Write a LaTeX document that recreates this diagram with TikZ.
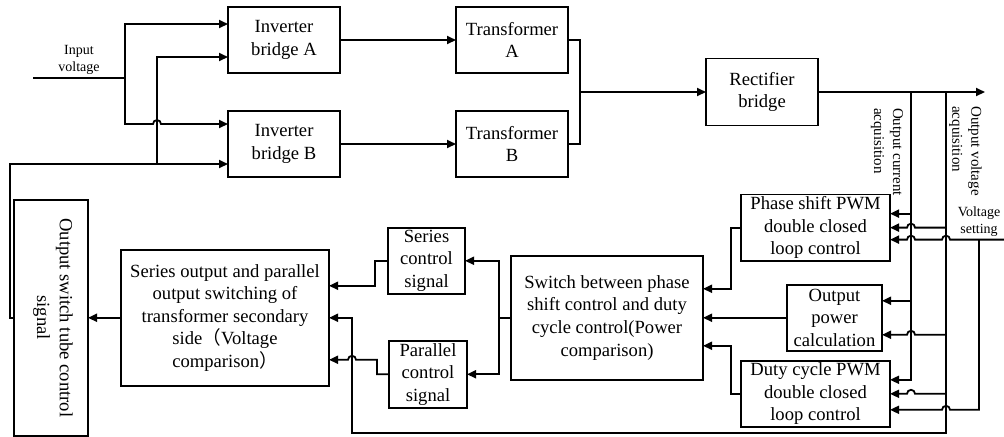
\documentclass[tikz,border=0pt]{standalone}
\usepackage{fontspec}
\setmainfont{Liberation Serif}
\newfontfamily\cjk{Noto Sans CJK SC}
\usepackage{graphicx}
\usepackage{tikz}
\usetikzlibrary{arrows.meta,positioning,calc}

\begin{document}
\begin{tikzpicture}[
   >={Triangle[length=4.5pt,width=4pt]},
   font=\fontsize{9.3pt}{11.3pt}\selectfont,
   box/.style={draw,line width=0.9pt,align=center,inner sep=1pt,outer sep=0pt,
               minimum width=56pt,minimum height=33pt},
   lbl/.style={font=\fontsize{7pt}{8.5pt}\selectfont,align=center,inner sep=0pt},
   acq/.style={lbl,rotate=-90,align=left,font=\fontsize{7.5pt}{9.5pt}\selectfont},
   sig/.style={->,line width=0.9pt},
   wire/.style={line width=0.9pt}
  ]
  \useasboundingbox (0,0) rectangle (502pt,-218pt);

  % power stage
  \node[box] (invA) at (142pt,-20pt) {Inverter\\bridge A};
  \node[box,below=19pt of invA] (invB) {Inverter\\bridge B};
  \node[box,right=58pt of invA] (trA) {Transformer\\A};
  \node[box,right=58pt of invB] (trB) {Transformer\\B};
  \coordinate (mid) at ($(trA.east)!0.5!(trB.east)$);
  \node[box,right=69pt of mid,minimum height=33.5pt] (rect) {Rectifier\\bridge};

  % control blocks
  \node[box,below=34.5pt of rect,xshift=26.75pt,minimum width=74.5pt] (phase)
       {Phase shift PWM\\double closed\\loop control};
  \node[box,below=12pt of phase,xshift=9.5pt,minimum width=47.5pt] (power)
       {Output\\power\\calculation};
  \node[box,below=50pt of phase,minimum width=74.5pt] (duty)
       {Duty cycle PWM\\double closed\\loop control};
  \node[box,left=42pt of power,minimum width=96pt,minimum height=62pt] (sw)
       {Switch between phase\\shift control and duty\\cycle control(Power\\comparison)};
  \node[box,left=23pt of sw,yshift=28.5pt,minimum width=38.5pt] (ser) {Series\\control\\signal};
  \node[box,left=22pt of sw,yshift=-28.25pt,minimum width=39pt,minimum height=33.5pt] (par)
       {Parallel\\control\\signal};
  \node[box,left=91pt of sw,minimum width=104pt,minimum height=68pt] (sp)
       {Series output and parallel\\output switching of\\transformer secondary\\side{\cjk （}Voltage\\comparison{\cjk ）}};
  \node[box,left=16.5pt of sp,minimum width=37pt,minimum height=118pt] (osw)
       {\hspace{2pt}\rotatebox{-90}{\begin{tabular}{@{}c@{}}Output switch tube control\\signal\end{tabular}}};

  % input side
  \coordinate (vj) at ([xshift=-51.5pt,yshift=-19pt]invA.west);
  \coordinate[left=46pt of vj] (vin);
  \node[lbl,above=1.5pt] (inlbl) at ($(vin)!0.5!(vj)$) {Input\\voltage};
  \draw[wire] (vin) -- (vj);
  \draw[sig] (vj) |- ([yshift=8pt]invA.west);
  \draw[sig] (vj) |- ([xshift=-37.5pt,yshift=10pt]invB.west)
     arc[start angle=180,end angle=0,radius=2pt] -- ([yshift=10pt]invB.west);
  \draw[sig] (osw.west) -- ++(-2pt,0) |- ([yshift=-10pt]invB.west);
  \coordinate (fbj) at ([xshift=-35.5pt,yshift=-10pt]invB.west);
  \draw[sig] (fbj) |- ([yshift=-8.5pt]invA.west);

  \draw[sig] (invA) -- (trA);
  \draw[sig] (invB) -- (trB);
  \draw[wire] (trA.east) -- ++(6pt,0) |- (trB.east);
  \draw[sig] ([xshift=6pt]mid) -- (rect);

  % output and acquisition
  \coordinate[right=83.5pt of rect.east] (vout);
  \draw[sig] (rect) -- (vout);
  \coordinate (ci) at ([xshift=46.5pt]rect.east);
  \coordinate (vi) at ([xshift=64pt]rect.east);
  \node[acq] (cilbl) at ([xshift=-12pt,yshift=-30pt]ci) {Output current\\acquisition};
  \node[acq] (vilbl) at ([xshift=9.75pt,yshift=-29.5pt]vi) {Output voltage\\acquisition};

  \draw[sig] (ci) |- ([yshift=7pt]phase.east);
  \draw[sig] (ci) |- ([yshift=8.5pt]power.east);
  \draw[sig] (ci) |- ([yshift=7pt]duty.east);

  \draw[sig] (vi) |- ([xshift=12.5pt]phase.east)
     arc[start angle=0,end angle=180,radius=2pt] -- (phase.east);
  \draw[sig] (vi) |- ([xshift=16.5pt,yshift=-8.5pt]power.east)
     arc[start angle=0,end angle=180,radius=2pt] -- ([yshift=-8.5pt]power.east);
  \draw[sig] (vi) |- ([xshift=12.5pt]duty.east)
     arc[start angle=0,end angle=180,radius=2pt] -- (duty.east);
  \coordinate (vbot) at ($(vi |- duty.south)+(0,-3pt)$);
  \draw[sig] (vi) -- (vbot) -| ([xshift=11.5pt]sp.east) -- (sp.east);

  % voltage setting
  \coordinate (vsj) at ([xshift=44.5pt,yshift=-6pt]phase.east);
  \coordinate (vset) at ([xshift=57pt,yshift=-6pt]phase.east);
  \node[lbl,above=1.5pt of vsj] (vslbl) {Voltage\\setting};
  \draw[sig] (vset) -- ([xshift=30pt,yshift=-6pt]phase.east)
     arc[start angle=0,end angle=180,radius=2pt] -- ([xshift=12.5pt,yshift=-6pt]phase.east)
     arc[start angle=0,end angle=180,radius=2pt] -- ([yshift=-6pt]phase.east);
  \draw[sig] (vsj) |- ([xshift=30pt,yshift=-8pt]duty.east)
     arc[start angle=0,end angle=180,radius=2pt] -- ([yshift=-8pt]duty.east);

  % switching logic
  \draw[sig] (phase.west) -- ++(-5pt,0) |- ([yshift=14.5pt]sw.east);
  \draw[sig] (power) -- (sw);
  \draw[sig] (duty.west) -- ++(-5pt,0) |- ([yshift=-14pt]sw.east);
  \draw[sig] (sw.west) -- ++(-6pt,0) |- (ser.east);
  \draw[sig] (sw.west) -- ++(-6pt,0) |- (par.east);
  \draw[sig] (ser.west) -- ++(-6.5pt,0) |- ([yshift=16pt]sp.east);
  \draw[sig] (par.west) -- ++(-6pt,0) |- ([xshift=13.5pt,yshift=-21pt]sp.east)
     arc[start angle=0,end angle=180,radius=2pt] -- ([yshift=-21pt]sp.east);
  \draw[sig] (sp) -- (osw);
\end{tikzpicture}
\end{document}
